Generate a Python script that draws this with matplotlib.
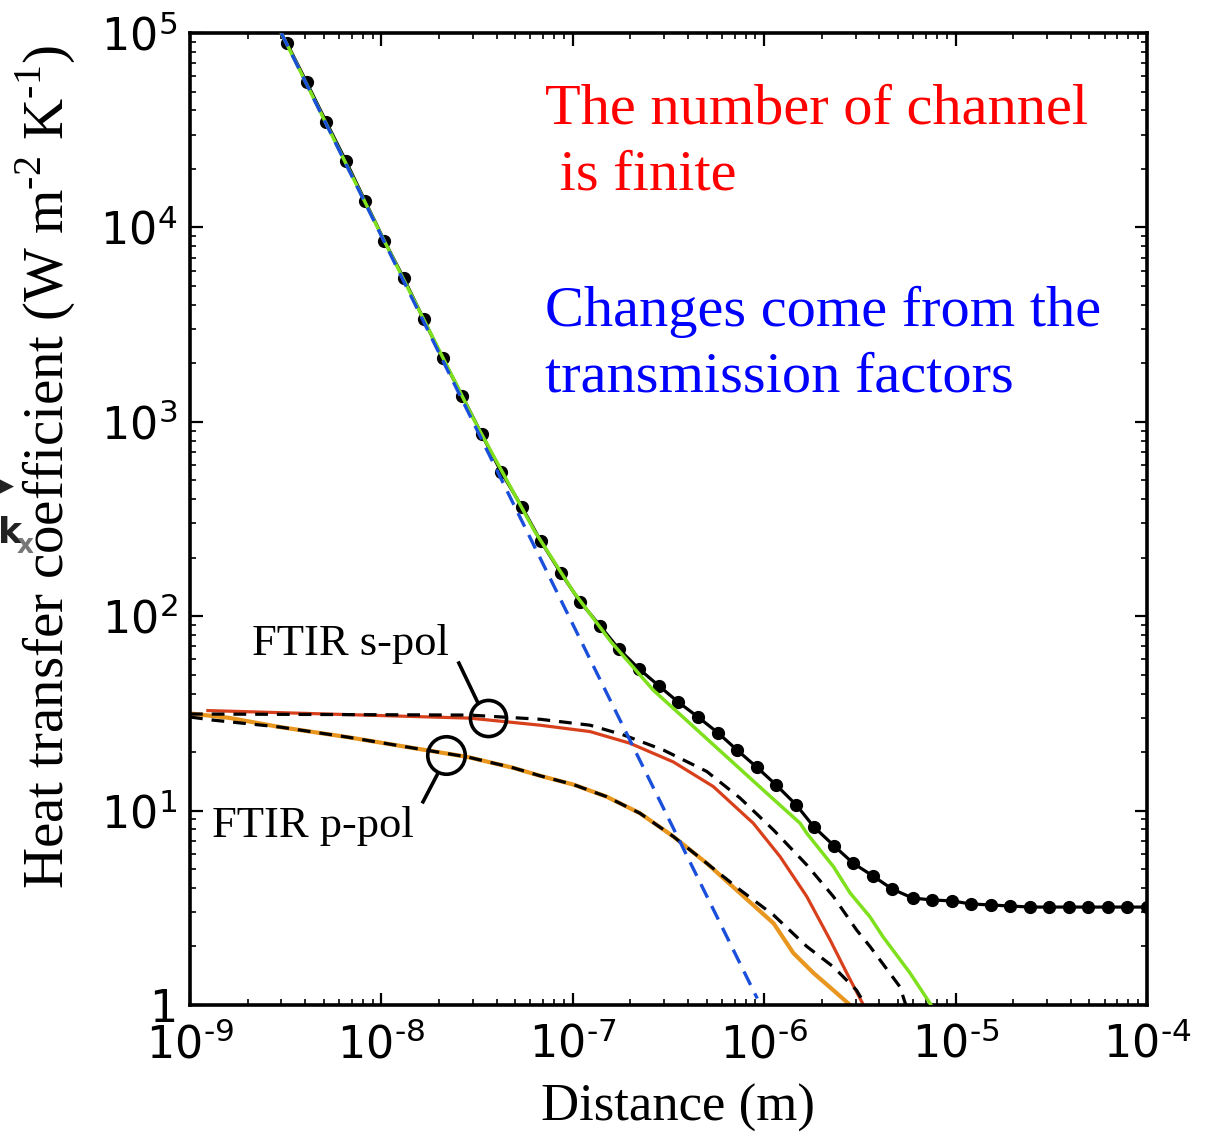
import math
import matplotlib
matplotlib.use("Agg")
import matplotlib.pyplot as plt
from matplotlib.ticker import LogLocator, FuncFormatter, NullFormatter

# ---------------- data ----------------
dots_d = [3.20e-9, 4.07e-9, 5.14e-9, 6.53e-9, 8.24e-9, 1.035e-8, 1.31e-8, 1.66e-8,
          2.09e-8, 2.65e-8, 3.34e-8, 4.22e-8, 5.41e-8, 6.79e-8, 8.65e-8, 1.09e-7,
          1.39e-7, 1.74e-7, 2.22e-7, 2.82e-7, 3.55e-7, 4.51e-7, 5.74e-7, 7.21e-7,
          9.16e-7, 1.15e-6, 1.47e-6, 1.82e-6, 2.32e-6, 2.91e-6, 3.70e-6, 4.66e-6,
          5.96e-6, 7.53e-6, 9.57e-6, 1.20e-5, 1.53e-5, 1.92e-5, 2.45e-5, 3.08e-5,
          3.91e-5, 4.92e-5, 6.25e-5, 7.85e-5, 1.00e-4]
dots_h = [89100, 55700, 35000, 21900, 13600, 8550, 5460, 3380,
          2120, 1350, 863, 553, 366, 244, 167, 119,
          89.1, 67.8, 53.5, 43.8, 36.2, 30.3, 25.1, 20.5,
          16.7, 13.6, 10.7, 8.24, 6.58, 5.37, 4.61, 3.95,
          3.55, 3.47, 3.43, 3.31, 3.27, 3.23, 3.19, 3.19,
          3.19, 3.19, 3.19, 3.19, 3.19]

green_d = [3.0e-9, 1.0e-8, 3.16e-8, 6.3e-8, 1.0e-7, 1.58e-7, 2.63e-7, 4.09e-7,
           6.37e-7, 1.03e-6, 1.54e-6, 1.67e-6, 2.30e-6, 2.81e-6, 3.57e-6, 4.18e-6,
           5.78e-6, 7.35e-6, 7.9e-6]
green_h = [1.0e5, 9120, 955, 275, 135, 74, 41.7, 28.1,
           18.9, 12.3, 8.61, 7.64, 5.15, 3.77, 2.84, 2.24,
           1.46, 1.02, 0.89]

blue_d = [3.0e-9, 9.2e-7]
blue_h = [1.0e5, 1.08]

red_d = [1.24e-9, 2.90e-8, 6.75e-8, 1.23e-7, 1.99e-7, 3.35e-7, 5.42e-7, 8.77e-7,
         1.21e-6, 1.67e-6, 2.21e-6, 2.70e-6, 3.30e-6, 3.45e-6]
red_h = [32.7, 29.9, 27.5, 25.5, 22.2, 17.8, 13.3, 8.61,
         5.80, 3.61, 2.16, 1.46, 1.0, 0.90]

s_dash_d = [1.0e-9, 2.90e-8, 6.75e-8, 1.23e-7, 1.84e-7, 2.97e-7, 5.01e-7, 7.48e-7,
            1.12e-6, 1.67e-6, 2.30e-6, 3.04e-6, 3.57e-6, 5.12e-6, 5.75e-6]
s_dash_h = [31.4, 31.0, 29.5, 27.5, 24.5, 20.5, 15.9, 11.6,
            7.94, 5.25, 3.61, 2.43, 2.0, 1.24, 0.87]

p_dash_d = [1.0e-9, 1.32e-9, 2.95e-9, 6.61e-9, 1.46e-8, 2.80e-8, 4.88e-8, 6.75e-8,
            1.01e-7, 1.50e-7, 2.24e-7, 3.35e-7, 5.01e-7, 7.48e-7, 1.12e-6, 1.67e-6,
            2.30e-6, 3.04e-6, 3.37e-6, 3.55e-6]
p_dash_h = [30.3, 29.2, 26.9, 23.9, 21.0, 18.9, 16.6, 15.1,
            13.6, 11.8, 9.70, 7.36, 5.36, 3.91, 2.90, 2.00,
            1.57, 1.19, 1.0, 0.91]

orange_d = [1.0e-9, 1.6e-9, 2.95e-9, 6.61e-9, 1.46e-8, 2.80e-8, 4.88e-8, 6.75e-8,
            1.01e-7, 1.50e-7, 2.24e-7, 3.35e-7, 5.01e-7, 7.48e-7, 1.12e-6, 1.42e-6,
            1.81e-6, 2.30e-6, 2.81e-6, 3.0e-6]
orange_h = [31.6, 30.0, 26.9, 23.9, 21.0, 18.9, 16.6, 15.1,
            13.6, 11.8, 9.70, 7.36, 5.36, 3.76, 2.63, 1.85,
            1.46, 1.19, 1.0, 0.92]

x_tick_exps = [-9, -8, -7, -6, -5, -4]
y_tick_exps = [0, 1, 2, 3, 4, 5]

HY = "\u2010"  # short hyphen used in the reference superscripts

# ---------------- figure ----------------
W, H = 1228, 1139
fig = plt.figure(figsize=(W / 100, H / 100), dpi=100)
fig.patch.set_facecolor("white")


def fx(px):
    return px / W


def fy(py):
    return 1 - py / H


ax = fig.add_axes([fx(190), fy(1005), (1147 - 190) / W, (1005 - 33) / H])
ax.set_xscale("log")
ax.set_yscale("log")
ax.set_xlim(1e-9, 1e-4)
ax.set_ylim(1, 1e5)

ax.plot(red_d, red_h, color="#d8401c", lw=2.3, zorder=2)
ax.plot(orange_d, orange_h, color="#e8961e", lw=3.0, zorder=2)
ax.plot(s_dash_d, s_dash_h, color="k", lw=2.3, ls=(0, (4, 2.8)), zorder=3)
ax.plot(p_dash_d, p_dash_h, color="k", lw=2.3, ls=(0, (4, 2.8)), zorder=3)
ax.plot(dots_d, dots_h, "-o", color="k", lw=2.3, ms=8.5, zorder=4)
ax.plot(green_d, green_h, color="#7fe01e", lw=2.5, zorder=5)
ax.plot(blue_d, blue_h, color="#1a4fdc", lw=2.4, ls=(0, (4.5, 2.8)), zorder=6)

# annotation circles and pointer lines
ax.plot([3.6e-8], [29.9], "o", mfc="none", mec="k", ms=26, mew=2.6, zorder=7, clip_on=False)
ax.plot([2.18e-8], [19.3], "o", mfc="none", mec="k", ms=27, mew=2.6, zorder=7, clip_on=False)
ax.plot([2.54e-8, 3.20e-8], [57.4, 35.7], color="k", lw=2.6, zorder=7)
ax.plot([1.95e-8, 1.65e-8], [15.2, 11.1], color="k", lw=2.6, zorder=7)

# ticks
ax.xaxis.set_minor_locator(LogLocator(base=10, subs=range(2, 10), numticks=20))
ax.yaxis.set_minor_locator(LogLocator(base=10, subs=range(2, 10), numticks=20))
ax.xaxis.set_minor_formatter(NullFormatter())
ax.yaxis.set_minor_formatter(NullFormatter())
ax.set_xticks([10.0 ** e for e in x_tick_exps])
ax.set_yticks([10.0 ** e for e in y_tick_exps])


def exp_label(e):
    s = str(e).replace("-", HY)
    return r"$\mathdefault{10^{%s}}$" % s


def xfmt(v, pos):
    return exp_label(int(round(math.log10(v))))


def yfmt(v, pos):
    e = int(round(math.log10(v)))
    return "1" if e == 0 else exp_label(e)


ax.xaxis.set_major_formatter(FuncFormatter(xfmt))
ax.yaxis.set_major_formatter(FuncFormatter(yfmt))

ax.tick_params(which="both", direction="in", top=True, right=True)
ax.tick_params(which="major", length=9, width=1.6)
ax.tick_params(which="minor", length=4.5, width=1.2)
ax.tick_params(axis="y", which="major", labelsize=32, pad=9,
               labelfontfamily="DejaVu Sans")
ax.tick_params(axis="x", which="major", labelsize=32, pad=13,
               labelfontfamily="DejaVu Sans")
for s in ax.spines.values():
    s.set_linewidth(2.6)

serif = "Liberation Serif"
# axis labels
fig.text(fx(678), fy(1108), "Distance (m)", family=serif, size=38,
         ha="center", va="center")
fig.text(fx(45), fy(467),
         "Heat transfer coefficient (W m$^{\\mathdefault{%s2}}$ K$^{\\mathdefault{%s1}}$)" % (HY, HY),
         family=serif, size=41, rotation=90, ha="center", va="center")

# annotations
fig.text(fx(545), fy(123), "The number of channel", family=serif, size=42,
         color="#ff0000", va="baseline")
fig.text(fx(545), fy(189), " is finite", family=serif, size=42,
         color="#ff0000", va="baseline")
fig.text(fx(545), fy(326), "Changes come from the", family=serif, size=42,
         color="#0000ff", va="baseline")
fig.text(fx(545), fy(391), "transmission factors", family=serif, size=42,
         color="#0000ff", va="baseline")
fig.text(fx(252), fy(655), "FTIR s-pol", family=serif, size=32, va="baseline")
fig.text(fx(212), fy(837), "FTIR p-pol", family=serif, size=32, va="baseline")

# cropped fragment at the left edge of the original image
fig.text(fx(-2), fy(486), "\u25B6", size=15, color="#222222", va="center", ha="left")
fig.text(fx(-2), fy(533), "k", size=26, weight="bold", color="#222222", va="center", ha="left")
fig.text(fx(17), fy(546), "x", size=19, weight="bold", color="#777777", va="center", ha="left")

fig.savefig("out.png", dpi=100)
